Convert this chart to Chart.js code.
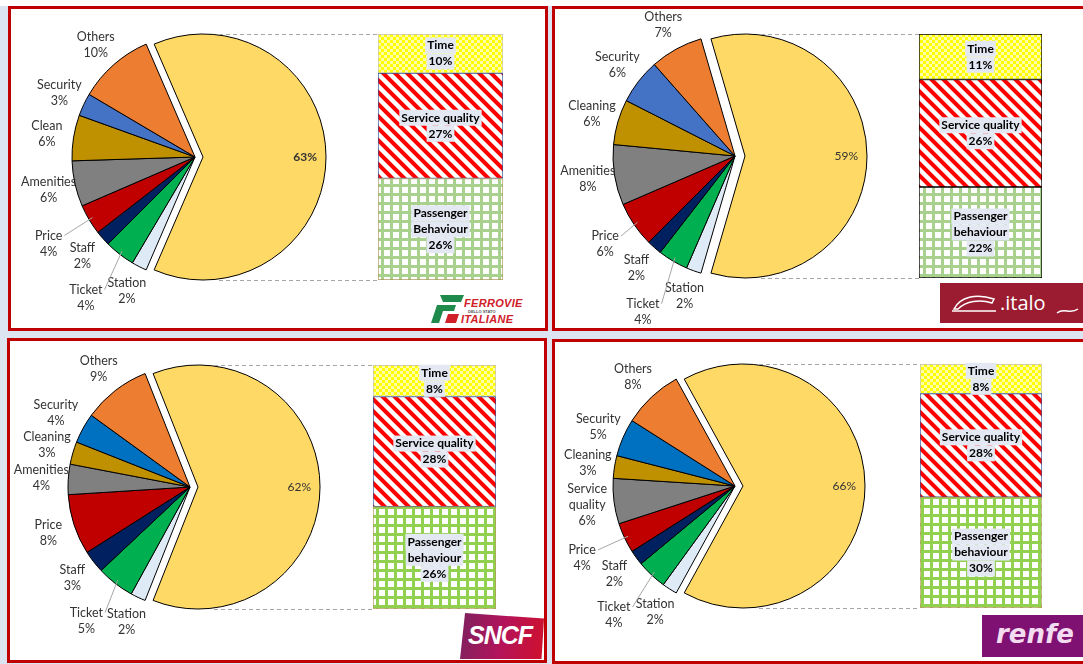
<!DOCTYPE html>
<html>
<head>
<meta charset="utf-8">
<script src="https://cdn.jsdelivr.net/npm/chart.js@4.4.1/dist/chart.umd.min.js"></script>
<style>
  body { margin: 0; width: 1083px; height: 664px; position: relative; overflow: hidden; background: #dce4f2; font-family: Lato, sans-serif; }
  .panel { position: absolute; background: #fff; border: 3px solid #c00000; box-sizing: border-box; }
  canvas { position: absolute; }
  .logo { position: absolute; overflow: hidden; }
</style>
</head>
<body>
<div style="position:absolute;left:0;top:0;width:1083px;height:6px;background:#fff"></div>
<div class="panel" style="left:8px;top:6px;width:540px;height:325px"></div>
<div class="panel" style="left:552px;top:6px;width:540px;height:325px;"></div>
<div class="panel" style="left:7px;top:338px;width:540px;height:325px"></div>
<div class="panel" style="left:552px;top:339px;width:540px;height:325px"></div>

<!-- logos -->
<div class="logo" style="left:428px;top:292px;width:102px;height:34px">
  <svg width="36" height="34" style="position:absolute;left:0;top:0">
    <path d="M12 3 L36 3 L33 10 L15 10 Z" fill="#1e8a4c"/>
    <path d="M9 13 L28 13 L26 19 L15 19 L11 31 L3 31 Z" fill="#1e8a4c"/>
    <path d="M20 22 L31 22 L28 31 L17 31 Z" fill="#d0202a"/>
  </svg>
  <div style="position:absolute;left:36px;top:5px;font:italic bold 11px Arial;color:#d0202a;letter-spacing:0.3px">FERROVIE</div>
  <div style="position:absolute;left:40px;top:17px;font:bold 4px Arial;color:#555">DELLO STATO</div>
  <div style="position:absolute;left:33px;top:21px;font:italic bold 11px Arial;color:#d0202a;letter-spacing:0.3px">ITALIANE</div>
</div>
<div class="logo" style="left:940px;top:283px;width:143px;height:40px;background:#9b1c31">
  <svg width="50" height="40" style="position:absolute;left:10px;top:0">
    <path d="M4 26 C10 14 26 10 44 16 L42 20 C30 16 16 18 8 26 Z" fill="none" stroke="#fff" stroke-width="1.5"/>
    <path d="M2 28 L46 28" stroke="#fff" stroke-width="1.5"/>
  </svg>
  <div style="position:absolute;left:60px;top:6px;font:20px 'Open Sans';color:#fff">.italo</div>
  <svg width="24" height="14" style="position:absolute;left:116px;top:20px">
    <path d="M1 10 C8 4 14 12 22 6" fill="none" stroke="#fff" stroke-width="1.5"/>
  </svg>
</div>
<div class="logo" style="left:460px;top:613px;width:84px;height:46px;background:linear-gradient(100deg,#7d215f 0%,#b3145a 50%,#d0102c 100%);clip-path:polygon(6% 0,100% 12%,97% 100%,0 100%)">
  <div style="position:absolute;left:8px;top:8px;font:italic bold 25px Arial;color:#fff;letter-spacing:-1px">SNCF</div>
</div>
<div class="logo" style="left:982px;top:615px;width:101px;height:42px;background:#7f1173">
  <div style="position:absolute;left:14px;top:4px;font:italic bold 26px 'DejaVu Sans';color:#f3dcef">renfe</div>
</div>

<canvas id="fsPie"></canvas><canvas id="fsBar"></canvas>
<canvas id="italoPie"></canvas><canvas id="italoBar"></canvas>
<canvas id="sncfPie"></canvas><canvas id="sncfBar"></canvas>
<canvas id="renfePie"></canvas><canvas id="renfeBar"></canvas>

<script>
// Ferrovie dello Stato
const fsCategories = ['Station', 'Ticket', 'Staff', 'Price', 'Amenities', 'Clean', 'Security', 'Others'];
const fsValues = [2, 4, 2, 4, 6, 6, 3, 10];
const fsBarCategories = ['Passenger Behaviour', 'Service quality', 'Time'];
const fsBarValues = [26, 27, 10];

// Italo
const italoCategories = ['Station', 'Ticket', 'Staff', 'Price', 'Amenities', 'Cleaning', 'Security', 'Others'];
const italoValues = [2, 4, 2, 6, 8, 6, 6, 7];
const italoBarCategories = ['Passenger behaviour', 'Service quality', 'Time'];
const italoBarValues = [22, 26, 11];

// SNCF
const sncfCategories = ['Station', 'Ticket', 'Staff', 'Price', 'Amenities', 'Cleaning', 'Security', 'Others'];
const sncfValues = [2, 5, 3, 8, 4, 3, 4, 9];
const sncfBarCategories = ['Passenger behaviour', 'Service quality', 'Time'];
const sncfBarValues = [26, 28, 8];

// Renfe
const renfeCategories = ['Station', 'Ticket', 'Staff', 'Price', 'Service quality', 'Cleaning', 'Security', 'Others'];
const renfeValues = [2, 4, 2, 4, 6, 3, 5, 8];
const renfeBarCategories = ['Passenger behaviour', 'Service quality', 'Time'];
const renfeBarValues = [30, 28, 8];

// big slice first, then the small ones clockwise
const sliceColors = ['#FFD966', '#DEEBF7', '#00B050', '#002060', '#C00000', '#808080', '#BF9000', '#4472C4', '#ED7D31'];

const FONT = 'Lato, sans-serif';

function makePattern(size, draw) {
  const c = document.createElement('canvas');
  c.width = c.height = size;
  const g = c.getContext('2d');
  draw(g, size);
  return g.createPattern(c, 'repeat');
}

const checkerYellow = makePattern(6, (g) => {
  g.fillStyle = '#ffffa8'; g.fillRect(0, 0, 6, 6);
  g.fillStyle = '#ffff00'; g.fillRect(0, 0, 3, 3); g.fillRect(3, 3, 3, 3);
});
const stripeRed = makePattern(12, (g, n) => {
  for (let y = 0; y < n; y++) {
    for (let x = 0; x < n; x++) {
      const d = (x - y + 2 * n) % n;
      g.fillStyle = d < 5 ? '#ff0000' : (d === 5 || d === n - 1 ? '#f7a3a3' : '#ffffff');
      g.fillRect(x, y, 1, 1);
    }
  }
});
const gridGreen = (col) => makePattern(9, (g) => {
  g.fillStyle = '#fff'; g.fillRect(0, 0, 9, 9);
  g.fillStyle = col; g.fillRect(0, 0, 9, 3); g.fillRect(0, 0, 3, 9);
});

function wrapText(ctx, text, maxW) {
  const lines = [];
  let cur = '';
  text.split(' ').forEach(w => {
    const t = cur ? cur + ' ' + w : w;
    if (cur && ctx.measureText(t).width > maxW) { lines.push(cur); cur = w; } else cur = t;
  });
  if (cur) lines.push(cur);
  return lines;
}

const sliceLabels = {
  id: 'sliceLabels',
  afterDatasetsUpdate(chart, args, opts) {
    // pull the big slice out
    const arc = chart.getDatasetMeta(0).data[0];
    const mid = (arc.startAngle + arc.endAngle) / 2;
    arc.x += Math.cos(mid) * opts.explode;
    arc.y += Math.sin(mid) * opts.explode;
  },
  afterDatasetsDraw(chart, args, opts) {
    const ctx = chart.ctx;
    const arcs = chart.getDatasetMeta(0).data;
    const labels = chart.data.labels;
    const values = chart.data.datasets[0].data;
    ctx.save();
    ctx.textAlign = 'center';
    ctx.textBaseline = 'middle';
    ctx.fillStyle = '#333';

    const big = arcs[0];
    const bm = (big.startAngle + big.endAngle) / 2;
    ctx.font = (opts.boldBig ? 'bold ' : '') + '12px ' + FONT;
    ctx.fillText(values[0] + '%', big.x + Math.cos(bm) * big.outerRadius * 0.83, big.y + Math.sin(bm) * big.outerRadius * 0.83);

    ctx.font = '12.5px ' + FONT;
    const lh = 16;
    const placed = [];
    arcs.forEach((arc, i) => {
      if (i === 0) return;
      const mid = (arc.startAngle + arc.endAngle) / 2;
      const lines = wrapText(ctx, labels[i], 62).concat([values[i] + '%']);
      const w = Math.max(...lines.map(l => ctx.measureText(l).width));
      const h = lines.length * lh;
      const base = arc.outerRadius + 27;
      let d = base, box;
      for (let k = 0; k < 25; k++) {
        const x = arc.x + Math.cos(mid) * d, y = arc.y + Math.sin(mid) * d;
        box = { x1: x - w / 2 - 2, x2: x + w / 2 + 2, y1: y - h / 2, y2: y + h / 2, x, y };
        if (!placed.some(b => b.x1 < box.x2 && box.x1 < b.x2 && b.y1 < box.y2 && box.y1 < b.y2)) break;
        d += 4;
      }
      placed.push(box);
      if (d > base + 6) {
        ctx.save();
        ctx.strokeStyle = '#a6a6a6';
        ctx.lineWidth = 1;
        ctx.beginPath();
        ctx.moveTo(arc.x + Math.cos(mid) * (arc.outerRadius - 4), arc.y + Math.sin(mid) * (arc.outerRadius - 4));
        ctx.lineTo(box.x2, box.y1 + lh / 2);
        ctx.stroke();
        ctx.restore();
      }
      lines.forEach((l, j) => ctx.fillText(l, box.x, box.y1 + lh * j + lh / 2));
    });
    ctx.restore();
  }
};

const barExtras = {
  id: 'barExtras',
  beforeDatasetsDraw(chart) {
    const { ctx, chartArea } = chart;
    ctx.save();
    ctx.strokeStyle = '#a6a6a6';
    ctx.lineWidth = 1;
    ctx.setLineDash([4, 3]);
    ctx.beginPath();
    [chartArea.top, chartArea.bottom].forEach(y => {
      ctx.moveTo(0, Math.round(y) + 0.5);
      ctx.lineTo(chartArea.left, Math.round(y) + 0.5);
    });
    ctx.stroke();
    ctx.restore();
  },
  afterDatasetsDraw(chart) {
    const ctx = chart.ctx;
    ctx.save();
    ctx.font = 'bold 12px ' + FONT;
    ctx.textAlign = 'center';
    ctx.textBaseline = 'middle';
    const lh = 16;
    chart.data.datasets.forEach((ds, i) => {
      const bar = chart.getDatasetMeta(i).data[0];
      const lines = wrapText(ctx, ds.label, 100).concat([ds.data[0] + '%']);
      const cy = (bar.y + bar.base) / 2;
      const top = cy - lines.length * lh / 2;
      lines.forEach((l, j) => {
        const w = ctx.measureText(l).width + 4;
        const y = top + j * lh + lh / 2;
        ctx.fillStyle = '#e4e8f2';
        ctx.fillRect(bar.x - w / 2, y - 8, w, 16);
        ctx.fillStyle = '#000';
        ctx.fillText(l, bar.x, y);
      });
    });
    ctx.restore();
  }
};

function buildPanel(p) {
  const bigValue = p.barValues.reduce((a, b) => a + b, 0);
  const colors = sliceColors.slice();
  colors[7] = p.securityColor;

  const pie = document.getElementById(p.id + 'Pie');
  const W = 380, H = 350;
  pie.width = W; pie.height = H;
  pie.style.left = (p.cx - W / 2) + 'px';
  pie.style.top = (p.cy - H / 2) + 'px';
  new Chart(pie, {
    type: 'pie',
    data: {
      labels: [''].concat(p.categories),
      datasets: [{
        data: [bigValue].concat(p.values),
        backgroundColor: colors,
        borderColor: '#000',
        borderWidth: 1
      }]
    },
    options: {
      responsive: false,
      animation: false,
      radius: p.r,
      rotation: 90 - bigValue * 1.8,
      layout: { padding: 0 },
      plugins: {
        legend: { display: false },
        tooltip: { enabled: false },
        sliceLabels: { explode: p.explode, boldBig: p.boldBig }
      }
    },
    plugins: [sliceLabels]
  });

  const bar = document.getElementById(p.id + 'Bar');
  const left = p.cx + p.explode + 16;
  const bw = p.barRight - left;
  const bh = 2 * p.r + 6;
  bar.width = bw; bar.height = bh;
  bar.style.left = left + 'px';
  bar.style.top = (p.cy - p.r - 3) + 'px';
  const fills = [gridGreen(p.green), stripeRed, checkerYellow];
  new Chart(bar, {
    type: 'bar',
    data: {
      labels: [''],
      datasets: p.barCategories.map((c, i) => ({
        label: c,
        data: [p.barValues[i]],
        backgroundColor: fills[i],
        borderColor: p.barBorders[i],
        borderWidth: 1,
        borderSkipped: false
      }))
    },
    options: {
      responsive: false,
      animation: false,
      layout: { padding: { left: p.barLeft - left, top: 3, bottom: 3, right: 0 } },
      datasets: { bar: { barPercentage: 1, categoryPercentage: 1 } },
      scales: {
        x: { display: false, stacked: true },
        y: { display: false, stacked: true, min: 0, max: bigValue }
      },
      plugins: { legend: { display: false }, tooltip: { enabled: false } }
    },
    plugins: [barExtras]
  });
}

const softBorders = ['#b39a5c', '#2f5597', '#bfbfbf'];

buildPanel({ id: 'fs', categories: fsCategories, values: fsValues, barCategories: fsBarCategories, barValues: fsBarValues,
  cx: 195, cy: 157, r: 123, explode: 8, barLeft: 378, barRight: 503, boldBig: true,
  securityColor: '#4472C4', green: '#a9d18e', barBorders: softBorders });
buildPanel({ id: 'italo', categories: italoCategories, values: italoValues, barCategories: italoBarCategories, barValues: italoBarValues,
  cx: 735, cy: 156, r: 122, explode: 10, barLeft: 919, barRight: 1042, boldBig: false,
  securityColor: '#4472C4', green: '#a9d18e', barBorders: ['#000', '#000', '#000'] });
buildPanel({ id: 'sncf', categories: sncfCategories, values: sncfValues, barCategories: sncfBarCategories, barValues: sncfBarValues,
  cx: 190, cy: 487, r: 122, explode: 8, barLeft: 373, barRight: 496, boldBig: false,
  securityColor: '#0070C0', green: '#92d050', barBorders: softBorders });
buildPanel({ id: 'renfe', categories: renfeCategories, values: renfeValues, barCategories: renfeBarCategories, barValues: renfeBarValues,
  cx: 735, cy: 486, r: 122, explode: 8, barLeft: 920, barRight: 1042, boldBig: false,
  securityColor: '#0070C0', green: '#92d050', barBorders: softBorders });
</script>
</body>
</html>
